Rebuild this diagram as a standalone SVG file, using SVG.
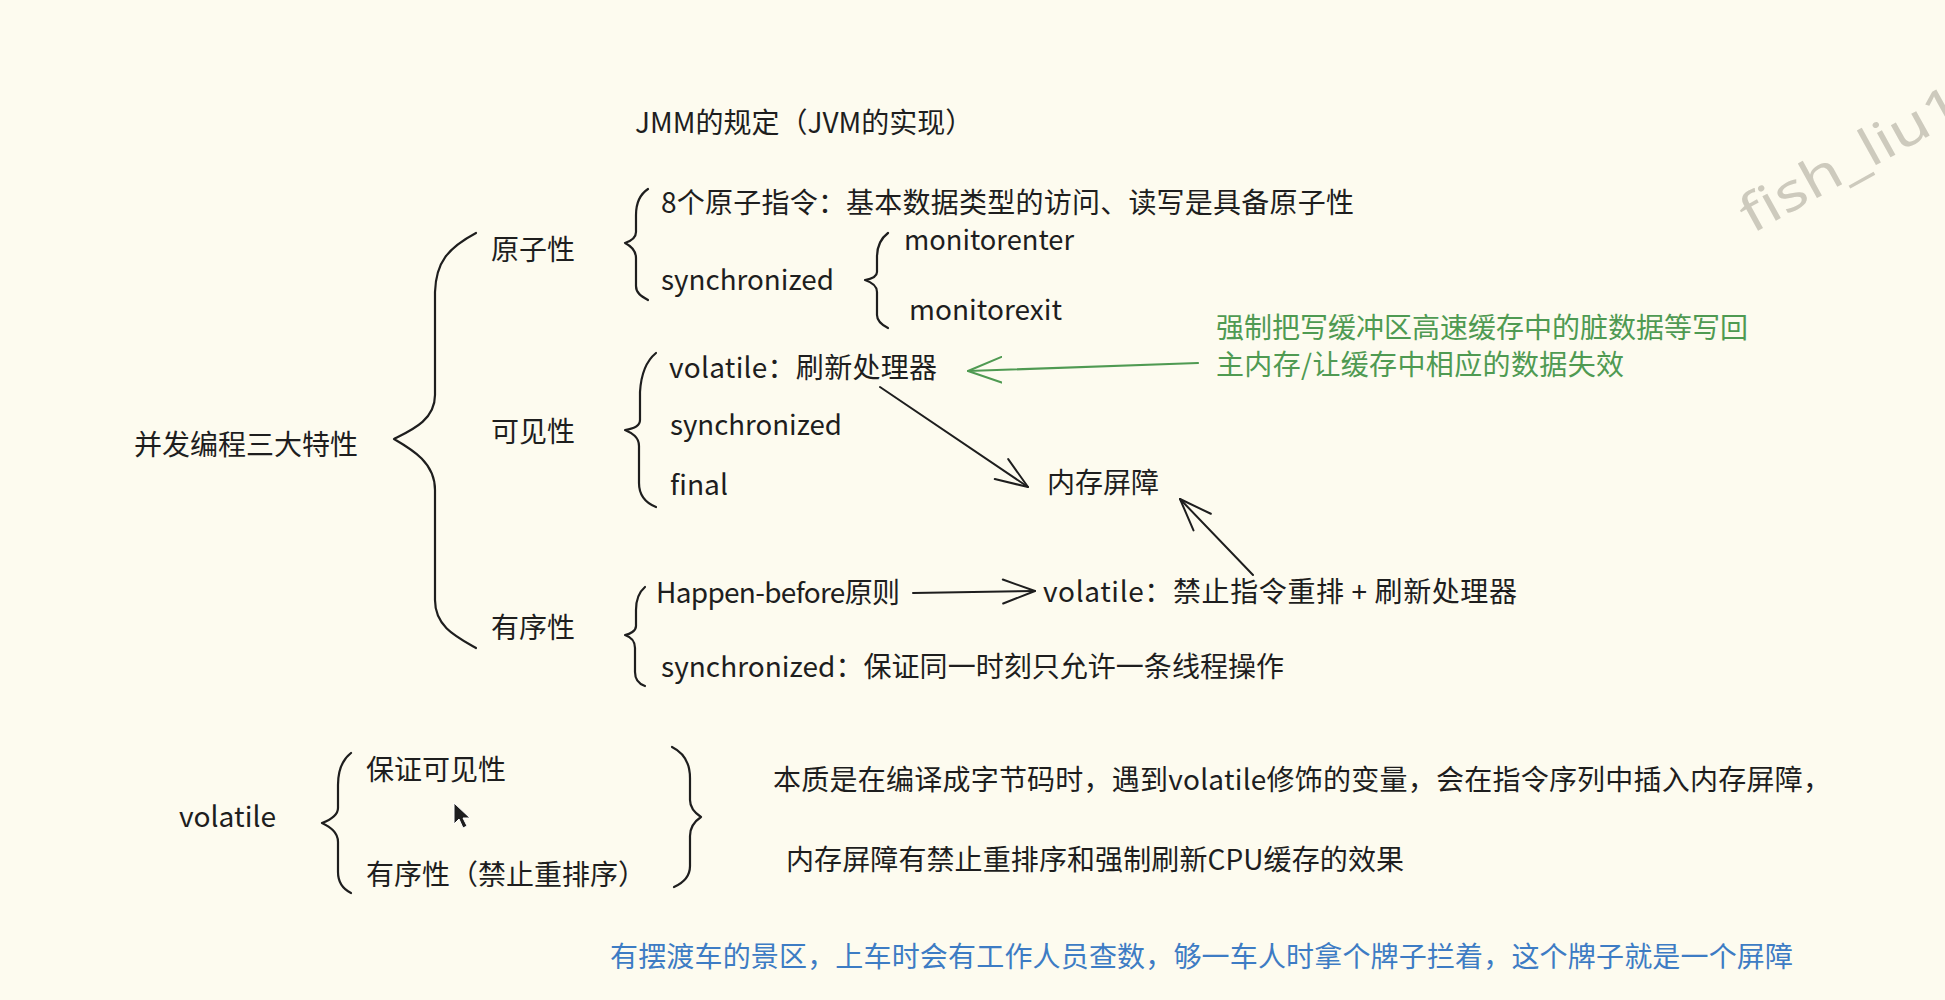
<svg xmlns="http://www.w3.org/2000/svg" width="1945" height="1000" viewBox="0 0 1945 1000">
<style>
.t{font-family:"Noto Sans CJK SC","Noto Sans",sans-serif;font-size:28px;fill:#1e1e1e}
.g{fill:#4f9a52}
.b{fill:#3d7cc4}
.wm{font-family:"Noto Sans","Liberation Sans",sans-serif;font-size:52px;fill:#cdcabd}
.br{fill:none;stroke:#1e1e1e;stroke-width:2.2;stroke-linecap:round;stroke-linejoin:round}
.ar{fill:none;stroke:#1e1e1e;stroke-width:2;stroke-linecap:round}
.arg{fill:none;stroke:#4f9a52;stroke-width:2.2;stroke-linecap:round}
</style>
<defs>
<marker id="hk" markerUnits="userSpaceOnUse" markerWidth="40" markerHeight="40" refX="34" refY="20" orient="auto">
<path d="M2,8 L34,20 L2,32" fill="none" stroke="#1e1e1e" stroke-width="2" stroke-linecap="round" stroke-linejoin="round"/>
</marker>
<marker id="hg" markerUnits="userSpaceOnUse" markerWidth="40" markerHeight="40" refX="34" refY="20" orient="auto">
<path d="M0,7 L34,20 L0,33" fill="none" stroke="#4f9a52" stroke-width="2" stroke-linecap="round" stroke-linejoin="round"/>
</marker>
</defs>
<rect width="1945" height="1000" fill="#fdfbef"/>

<g id="watermark">
<text class="wm" x="1752" y="234" transform="rotate(-29 1752 234)" textLength="245" lengthAdjust="spacingAndGlyphs">fish_liu1</text>
</g>

<g id="connectors">
<path id="brace-main" class="br" d="M476,233 C448,248 436,262 435,292 L435,395 C435,420 412,430 394,439 C413,450 435,463 435,490 L435,600 C435,626 455,636 476,648"/>
<path id="brace-atomic" class="br" d="M648,189 C639,195 636,204 636,215 L636,232 C636,238 631,241 625,243 C631,246 636,250 636,258 L636,286 C636,293 641,296 648,300"/>
<path id="brace-monitor" class="br" d="M888,233 C880,239 877,247 877,257 L877,272 C877,277 871,279 865,280 C871,282 877,285 877,292 L877,315 C877,321 882,325 888,328"/>
<path id="brace-visible" class="br" d="M656,353 C645,362 641,375 640,392 L640,420 C640,426 632,429 625,430 C632,433 639,437 639,446 L639,483 C639,496 646,503 656,507"/>
<path id="brace-order" class="br" d="M645,587 C638,593 636,600 636,610 L636,626 C636,631 630,634 625,635 C631,637 635,641 635,648 L635,672 C635,679 639,684 645,686"/>
<path id="brace-vol-left" class="br" d="M351,753 C342,760 338,770 338,785 L338,808 C338,816 330,820 322,823 C330,827 338,832 338,842 L338,872 C338,882 343,889 351,893"/>
<path id="brace-vol-right" class="br" d="M672,747 C684,753 690,763 690,778 L690,800 C690,808 695,813 701,817 C695,821 690,826 690,836 L690,866 C690,876 683,883 674,887"/>
<path id="arrow-flush-barrier" class="ar" d="M880,387 L1028,487" marker-end="url(#hk)"/>
<path id="arrow-vol-barrier" class="ar" d="M1253,575 L1180,499" marker-end="url(#hk)"/>
<path id="arrow-hb-vol" class="ar" d="M913,593 L1035,591" marker-end="url(#hk)"/>
<path id="arrow-green" class="arg" d="M1198,363 L968,371" marker-end="url(#hg)"/>
</g>

<g id="n-jmm"><text class="t" x="635" y="133">JMM的规定（JVM的实现）</text></g>
<g id="n-root"><text class="t" x="134" y="455">并发编程三大特性</text></g>
<g id="n-atomic"><text class="t" x="491" y="260">原子性</text></g>
<g id="n-visible"><text class="t" x="491" y="442">可见性</text></g>
<g id="n-order"><text class="t" x="491" y="638">有序性</text></g>
<g id="n-8ops"><text class="t" x="661" y="213" textLength="693" lengthAdjust="spacing">8个原子指令：基本数据类型的访问、读写是具备原子性</text></g>
<g id="n-sync-atomic"><text class="t" x="661" y="290" textLength="173" lengthAdjust="spacingAndGlyphs">synchronized</text></g>
<g id="n-monitorenter"><text class="t" x="904" y="250" textLength="170" lengthAdjust="spacingAndGlyphs">monitorenter</text></g>
<g id="n-monitorexit"><text class="t" x="909" y="320" textLength="153" lengthAdjust="spacingAndGlyphs">monitorexit</text></g>
<g id="n-vol-flush"><text class="t" x="669" y="378" textLength="268" lengthAdjust="spacing">volatile：刷新处理器</text></g>
<g id="n-sync-visible"><text class="t" x="670" y="435" textLength="172" lengthAdjust="spacingAndGlyphs">synchronized</text></g>
<g id="n-final"><text class="t" x="670" y="495" textLength="58" lengthAdjust="spacingAndGlyphs">final</text></g>
<g id="n-barrier"><text class="t" x="1047" y="493">内存屏障</text></g>
<g id="n-hb"><text class="t" x="656" y="603" textLength="244" lengthAdjust="spacing">Happen-before原则</text></g>
<g id="n-vol-order"><text class="t" x="1043" y="602" textLength="474" lengthAdjust="spacing">volatile：禁止指令重排 + 刷新处理器</text></g>
<g id="n-sync-order"><text class="t" x="661" y="677" textLength="623" lengthAdjust="spacing">synchronized：保证同一时刻只允许一条线程操作</text></g>
<g id="n-green-note">
<text class="t g" x="1216" y="338">强制把写缓冲区高速缓存中的脏数据等写回</text>
<text class="t g" x="1216" y="375" textLength="408" lengthAdjust="spacing">主内存/让缓存中相应的数据失效</text>
</g>

<g id="n-volatile"><text class="t" x="179" y="827" textLength="97" lengthAdjust="spacingAndGlyphs">volatile</text></g>
<g id="n-vol-visible"><text class="t" x="366" y="780">保证可见性</text></g>
<g id="n-vol-ordered"><text class="t" x="366" y="885">有序性（禁止重排序）</text></g>
<g id="n-essence">
<text class="t" x="773" y="790" textLength="1058" lengthAdjust="spacing">本质是在编译成字节码时，遇到volatile修饰的变量，会在指令序列中插入内存屏障，</text>
<text class="t" x="786" y="870" textLength="618" lengthAdjust="spacing">内存屏障有禁止重排序和强制刷新CPU缓存的效果</text>
</g>
<g id="n-analogy"><text class="t b" x="610" y="967" textLength="1183" lengthAdjust="spacing">有摆渡车的景区，上车时会有工作人员查数，够一车人时拿个牌子拦着，这个牌子就是一个屏障</text></g>

<g id="cursor">
<path d="M454,803 L454,824 L459,819 L463,828 L467,826 L463,818 L470,818 Z" fill="#1e1e1e" stroke="#ffffff" stroke-width="1"/>
</g>
</svg>
